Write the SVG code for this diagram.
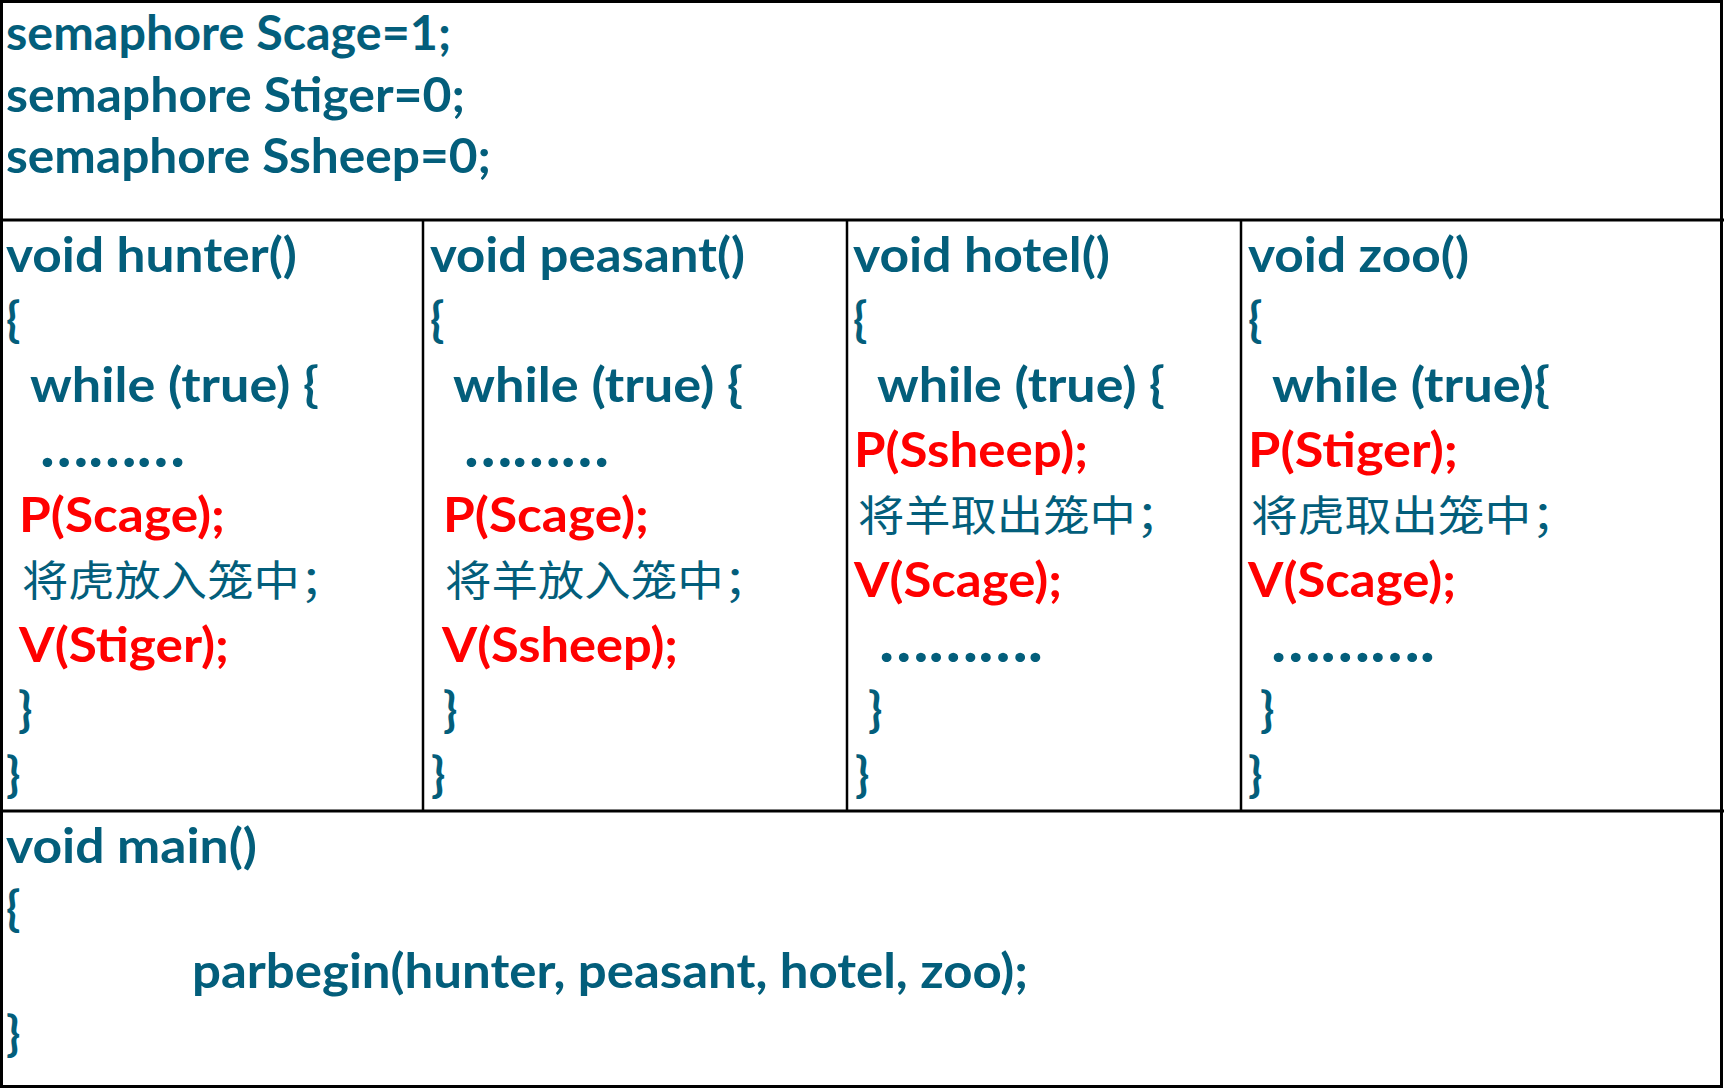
<svg xmlns="http://www.w3.org/2000/svg" width="1724" height="1088" viewBox="0 0 1724 1088">
<style>
.t{font-family:Lato,"Open Sans","Liberation Sans",sans-serif;font-weight:700;font-size:47px;fill:#035E7B}
.d{font-family:Lato,"Open Sans","Liberation Sans",sans-serif;font-weight:700;font-size:62px;fill:#035E7B}
.r{font-family:Lato,"Open Sans","Liberation Sans",sans-serif;font-weight:700;font-size:47px;fill:#FF0000}
.c{font-family:"Noto Sans CJK SC",sans-serif;font-weight:400;font-size:42px;fill:#035E7B}
.ln{stroke:#000;stroke-width:3;fill:none}
</style>
<rect width="1724" height="1088" fill="#fff"/>
<g id="frame">
<rect class="ln" x="1.5" y="1.5" width="1720" height="1085"/>
<line class="ln" x1="0" y1="220" x2="1724" y2="220"/>
<line class="ln" x1="0" y1="811" x2="1724" y2="811"/>
<line class="ln" x1="423" y1="220" x2="423" y2="811" style="stroke-width:2.5"/>
<line class="ln" x1="847" y1="220" x2="847" y2="811" style="stroke-width:2.5"/>
<line class="ln" x1="1241" y1="220" x2="1241" y2="811" style="stroke-width:2.5"/>
</g>
<g id="decl">
<text class="t" x="6" y="50" textLength="445" lengthAdjust="spacingAndGlyphs">semaphore Scage=1;</text>
<text class="t" x="6" y="112" textLength="459" lengthAdjust="spacingAndGlyphs">semaphore Stiger=0;</text>
<text class="t" x="6" y="173" textLength="485" lengthAdjust="spacingAndGlyphs">semaphore Ssheep=0;</text>
</g>
<g id="hunter">
<text class="t" x="6" y="272" textLength="291" lengthAdjust="spacingAndGlyphs">void hunter()</text>
<text class="t" x="6" y="337">{</text>
<text class="t" x="30" y="402" textLength="289" lengthAdjust="spacingAndGlyphs">while (true) {</text>
<text class="d" x="40" y="467" textLength="145" lengthAdjust="spacingAndGlyphs">………</text>
<text class="r" x="19" y="532" textLength="206" lengthAdjust="spacingAndGlyphs">P(Scage);</text>
<text class="c" x="22" y="596" textLength="324" lengthAdjust="spacingAndGlyphs">将虎放入笼中；</text>
<text class="r" x="19" y="662" textLength="210" lengthAdjust="spacingAndGlyphs">V(Stiger);</text>
<text class="t" x="18" y="727">}</text>
<text class="t" x="6" y="792">}</text>
</g>
<g id="peasant">
<text class="t" x="430" y="272" textLength="315" lengthAdjust="spacingAndGlyphs">void peasant()</text>
<text class="t" x="430" y="337">{</text>
<text class="t" x="453" y="402" textLength="290" lengthAdjust="spacingAndGlyphs">while (true) {</text>
<text class="d" x="464" y="467" textLength="145" lengthAdjust="spacingAndGlyphs">………</text>
<text class="r" x="443" y="532" textLength="206" lengthAdjust="spacingAndGlyphs">P(Scage);</text>
<text class="c" x="445" y="596" textLength="325" lengthAdjust="spacingAndGlyphs">将羊放入笼中；</text>
<text class="r" x="442" y="662" textLength="236" lengthAdjust="spacingAndGlyphs">V(Ssheep);</text>
<text class="t" x="443" y="727">}</text>
<text class="t" x="431" y="792">}</text>
</g>
<g id="hotel">
<text class="t" x="853" y="272" textLength="257" lengthAdjust="spacingAndGlyphs">void hotel()</text>
<text class="t" x="853" y="337">{</text>
<text class="t" x="877" y="402" textLength="288" lengthAdjust="spacingAndGlyphs">while (true) {</text>
<text class="r" x="854" y="467" textLength="234" lengthAdjust="spacingAndGlyphs">P(Ssheep);</text>
<text class="c" x="858" y="531" textLength="324" lengthAdjust="spacingAndGlyphs">将羊取出笼中；</text>
<text class="r" x="854" y="597" textLength="208" lengthAdjust="spacingAndGlyphs">V(Scage);</text>
<text class="d" x="879" y="662" textLength="164" lengthAdjust="spacingAndGlyphs">……….</text>
<text class="t" x="868" y="727">}</text>
<text class="t" x="855" y="792">}</text>
</g>
<g id="zoo">
<text class="t" x="1248" y="272" textLength="221" lengthAdjust="spacingAndGlyphs">void zoo()</text>
<text class="t" x="1248" y="337">{</text>
<text class="t" x="1272" y="402" textLength="278" lengthAdjust="spacingAndGlyphs">while (true){</text>
<text class="r" x="1248" y="467" textLength="210" lengthAdjust="spacingAndGlyphs">P(Stiger);</text>
<text class="c" x="1251" y="531" textLength="327" lengthAdjust="spacingAndGlyphs">将虎取出笼中；</text>
<text class="r" x="1248" y="597" textLength="208" lengthAdjust="spacingAndGlyphs">V(Scage);</text>
<text class="d" x="1271" y="662" textLength="164" lengthAdjust="spacingAndGlyphs">……….</text>
<text class="t" x="1260" y="727">}</text>
<text class="t" x="1248" y="792">}</text>
</g>
<g id="main">
<text class="t" x="6" y="863" textLength="251" lengthAdjust="spacingAndGlyphs">void main()</text>
<text class="t" x="6" y="926">{</text>
<text class="t" x="192" y="988" textLength="836" lengthAdjust="spacingAndGlyphs">parbegin(hunter, peasant, hotel, zoo);</text>
<text class="t" x="6" y="1051">}</text>
</g>
<g id="connectors"/>
</svg>
